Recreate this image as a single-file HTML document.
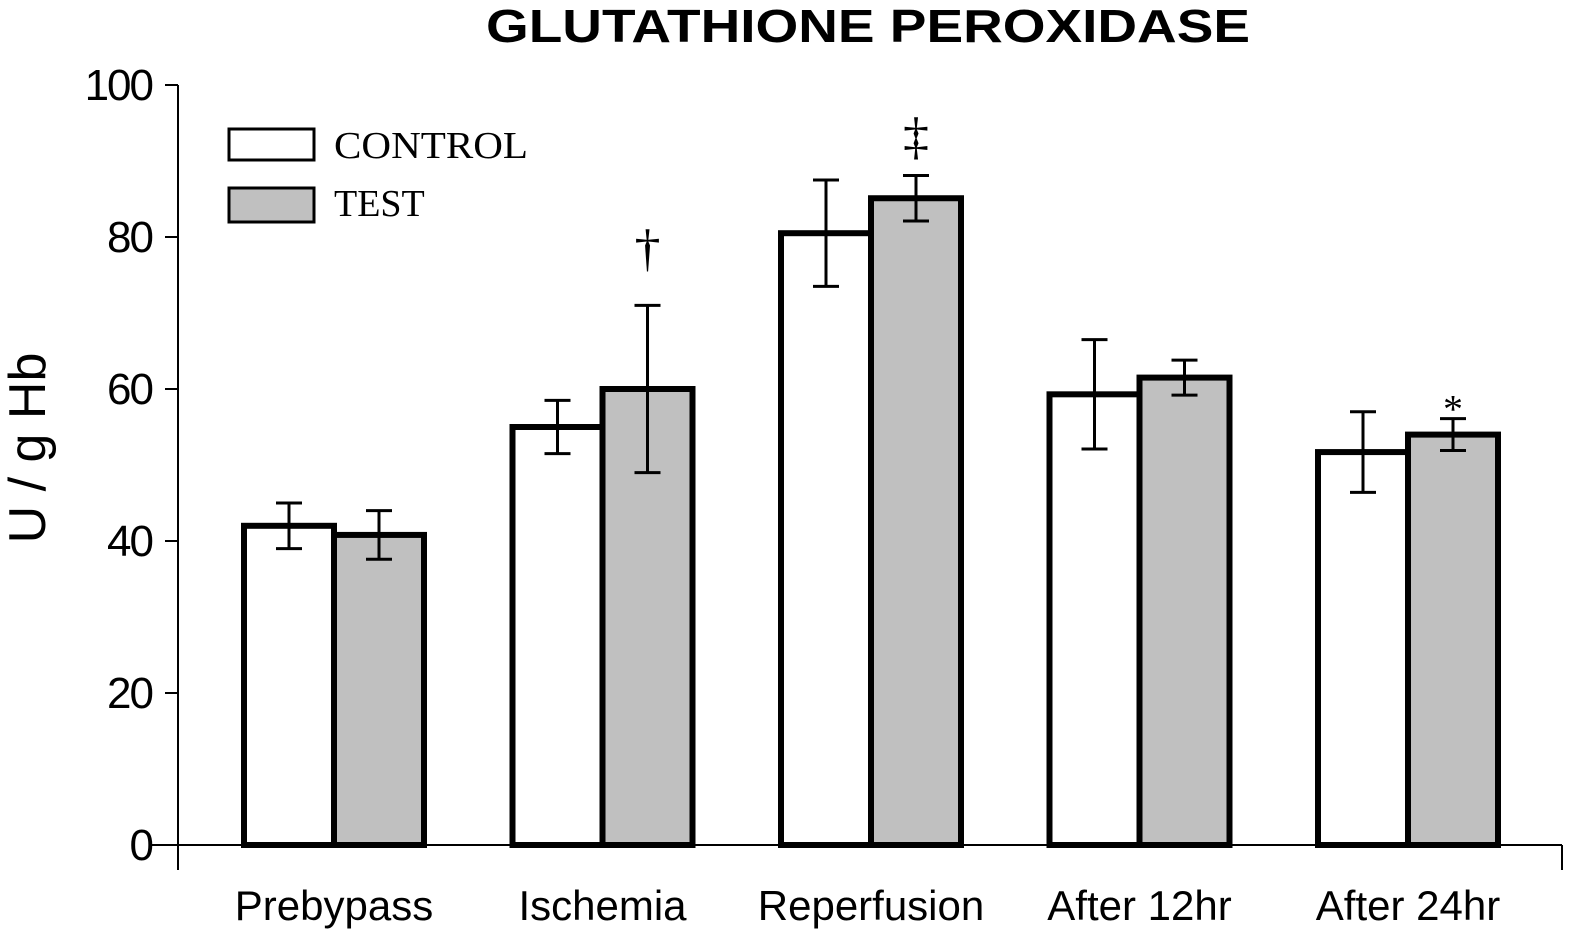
<!DOCTYPE html>
<html><head><meta charset="utf-8"><style>
body{margin:0;background:#fff;}
svg{display:block;}
text{font-family:"Liberation Sans",Arial,sans-serif;}
</style></head><body>
<svg id="chart" width="1589" height="945">
<text x="868" y="42" text-anchor="middle" font-size="46" font-weight="bold" textLength="764" lengthAdjust="spacingAndGlyphs">GLUTATHIONE PEROXIDASE</text>
<text transform="translate(45,448) rotate(-90)" text-anchor="middle" font-size="52">U / g Hb</text>
<g id="axes"></g>
<g id="bars"></g>
<rect x="229" y="129" width="85" height="31" fill="#fff" stroke="#000" stroke-width="3"/>
<text x="334" y="158" font-size="38" textLength="194" lengthAdjust="spacingAndGlyphs" style="font-family:'Liberation Serif',serif">CONTROL</text>
<rect x="229" y="188" width="85" height="34" fill="#c0c0c0" stroke="#000" stroke-width="3"/>
<text x="334" y="216" font-size="38" style="font-family:'Liberation Serif',serif">TEST</text>
</svg>
<script>
const categories=["Prebypass","Ischemia","Reperfusion","After 12hr","After 24hr"];
const controlValues=[42,55,80.5,59.3,51.7];
const controlErrors=[3,3.5,7,7.2,5.3];
const testValues=[40.8,60,85.1,61.5,54];
const testErrors=[3.2,11,3,2.3,2.1];
const markers=["","†","‡","","*"];
const yTicks=[0,20,40,60,80,100];
const NS="http://www.w3.org/2000/svg";
const x0=178,y0=845,yTop=85,xEnd=1562;
const y=v=>y0-(v/100)*(y0-yTop);
const groupCenter=i=>334+i*268.5;
const barW=90;
function mk(tag,attrs,parent){const e=document.createElementNS(NS,tag);for(const k in attrs)e.setAttribute(k,attrs[k]);parent.appendChild(e);return e;}
const axes=document.getElementById('axes'),bars=document.getElementById('bars');
let e=mk('line',{x1:x0,y1:yTop,x2:x0,y2:870,stroke:'#000','stroke-width':2},axes);


e=mk('line',{x1:150,y1:y0,x2:xEnd,y2:y0,stroke:'#000','stroke-width':2},axes);


mk('line',{x1:xEnd,y1:y0,x2:xEnd,y2:870,stroke:'#000','stroke-width':2},axes);
yTicks.forEach(t=>{
  mk('line',{x1:165,y1:y(t),x2:x0,y2:y(t),stroke:'#000','stroke-width':2},axes);
  const tx=mk('text',{x:152,y:y(t)+15,'text-anchor':'end','font-size':44,'letter-spacing':'-2'},axes);
  tx.textContent=t;
  
  
});
categories.forEach((c,i)=>{
  const cx=groupCenter(i);
  [[controlValues,controlErrors,'#fff',cx-barW,'control'],[testValues,testErrors,'#c0c0c0',cx,'test']].forEach(([vals,errs,fill,bx,nm])=>{
    const v=vals[i];
    const r=mk('rect',{x:bx,y:y(v),width:barW,height:y0-y(v),fill:fill,stroke:'#000','stroke-width':6},bars);
    
    
    const ex=bx+barW/2,hi=y(v+errs[i]),lo=y(v-errs[i]);
    const g=mk('g',{stroke:'#000','stroke-width':3},bars);
    
    
    mk('line',{x1:ex,y1:hi,x2:ex,y2:lo},g);
    mk('line',{x1:ex-13,y1:hi,x2:ex+13,y2:hi},g);
    mk('line',{x1:ex-13,y1:lo,x2:ex+13,y2:lo},g);
  });
  const lab=mk('text',{x:cx,y:920,'text-anchor':'middle','font-size':42},bars);
  lab.textContent=c;
  
  
  if(markers[i]){
    const top=y(testValues[i]+testErrors[i]);
    const off=markers[i]==='*'?-4:(markers[i]==='†'?40:22);
    const m=mk('text',{x:cx+barW/2,y:top-off,'text-anchor':'middle','font-size':markers[i]==='*'?40:52,style:"font-family:'Liberation Serif',serif"},bars);
    m.textContent=markers[i];
    
    
  }
});
</script>
</body></html>
